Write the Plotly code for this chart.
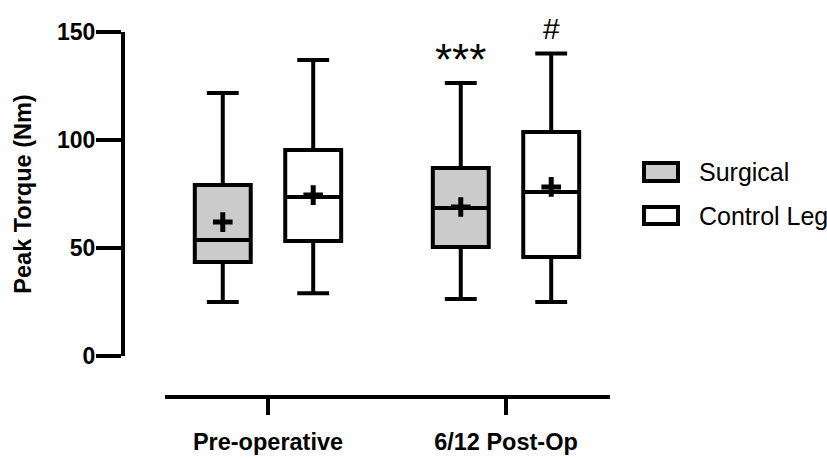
import plotly.graph_objects as go

# Peak torque summary statistics (Nm) per limb and time point
groups = ["Pre-operative", "6/12 Post-Op"]
group_pos = [0, 1]

surg_low = [25, 26.4]
surg_q1 = [43.5, 50.5]
surg_med = [53.7, 68.5]
surg_q3 = [79.2, 87]
surg_high = [121.8, 126.4]
surg_mean = [62, 69]

ctrl_low = [29, 25]
ctrl_q1 = [53.2, 45.8]
ctrl_med = [73.6, 75.9]
ctrl_q3 = [95.4, 103.7]
ctrl_high = [137, 140]
ctrl_mean = [74.5, 78.3]

y_ticks = [0, 50, 100, 150]
Y_MAX = 150

OFFSET = 0.19
BOX_W = 0.235
FONT = "Liberation Sans, Arial, Helvetica, sans-serif"

surg_x = [p - OFFSET for p in group_pos]
ctrl_x = [p + OFFSET for p in group_pos]

fig = go.Figure()

fig.add_trace(go.Box(
    name="Surgical", x=surg_x, q1=surg_q1, median=surg_med, q3=surg_q3,
    lowerfence=surg_low, upperfence=surg_high, width=BOX_W,
    fillcolor="#cbcbcb", line=dict(color="black", width=4),
    whiskerwidth=0.57, boxpoints=False, showlegend=False, hoverinfo="skip",
))
fig.add_trace(go.Box(
    name="Control Leg", x=ctrl_x, q1=ctrl_q1, median=ctrl_med, q3=ctrl_q3,
    lowerfence=ctrl_low, upperfence=ctrl_high, width=BOX_W,
    fillcolor="white", line=dict(color="black", width=4),
    whiskerwidth=0.57, boxpoints=False, showlegend=False, hoverinfo="skip",
))

# means shown as "+"
fig.add_trace(go.Scatter(
    x=surg_x + ctrl_x, y=surg_mean + ctrl_mean, mode="markers",
    marker=dict(symbol="cross-thin", size=14, line=dict(color="black", width=5)),
    showlegend=False, hoverinfo="skip", cliponaxis=False,
))

# significance markers above the post-op boxes
fig.add_annotation(x=surg_x[1], xref="x", yref="y domain", y=137.5 / Y_MAX,
                   text="***", showarrow=False,
                   font=dict(family=FONT, size=44, color="black"),
                   yanchor="middle")
fig.add_annotation(x=ctrl_x[1], xref="x", yref="y domain", y=151.5 / Y_MAX,
                   text="#", showarrow=False,
                   font=dict(family=FONT, size=30, color="black"),
                   yanchor="middle")

# legend drawn as swatches and labels to the right of the plot
legend_items = [("Surgical", "#cbcbcb", 0.6466, 0.5863),
                ("Control Leg", "white", 0.526, 0.4685)]
for label, fill, top, bottom in legend_items:
    fig.add_shape(type="rect", xref="paper", yref="paper",
                  x0=1.0698, x1=1.1396, y0=bottom + 0.0055, y1=top - 0.0055,
                  fillcolor=fill, line=dict(color="black", width=4))
    fig.add_annotation(xref="paper", yref="paper", x=1.1786,
                       y=(top + bottom) / 2, text=label, showarrow=False,
                       xanchor="left", yanchor="middle",
                       font=dict(family=FONT, size=25, color="black"))

fig.update_layout(
    width=827, height=459,
    margin=dict(l=123, r=217, t=32, b=62, autoexpand=False),
    plot_bgcolor="white", paper_bgcolor="white",
    boxmode="overlay",
    font=dict(family=FONT, color="black"),
    xaxis=dict(
        domain=[0.0862, 1], range=[-0.4328, 1.437],
        anchor="free", position=0, automargin=False,
        showline=True, linewidth=4, linecolor="black",
        showgrid=False, zeroline=False,
        tickmode="array", tickvals=group_pos, ticktext=groups,
        ticks="outside", ticklen=16, tickwidth=4, tickcolor="black",
        ticklabelstandoff=7,
        tickfont=dict(family=FONT, size=23.5, color="black", weight="bold"),
    ),
    yaxis=dict(
        domain=[0.1123, 1], range=[0, Y_MAX],
        anchor="free", position=0, automargin=False,
        showline=True, linewidth=4, linecolor="black",
        showgrid=False, zeroline=False,
        tickmode="array", tickvals=y_ticks,
        ticks="outside", ticklen=25, tickwidth=4, tickcolor="black",
        ticklabelstandoff=-4,
        tickfont=dict(family=FONT, size=23, color="black", weight="bold"),
        title=dict(text="Peak Torque (Nm)", standoff=18,
                   font=dict(family=FONT, size=23.5, color="black", weight="bold")),
    ),
)

fig.write_html("out.html")
